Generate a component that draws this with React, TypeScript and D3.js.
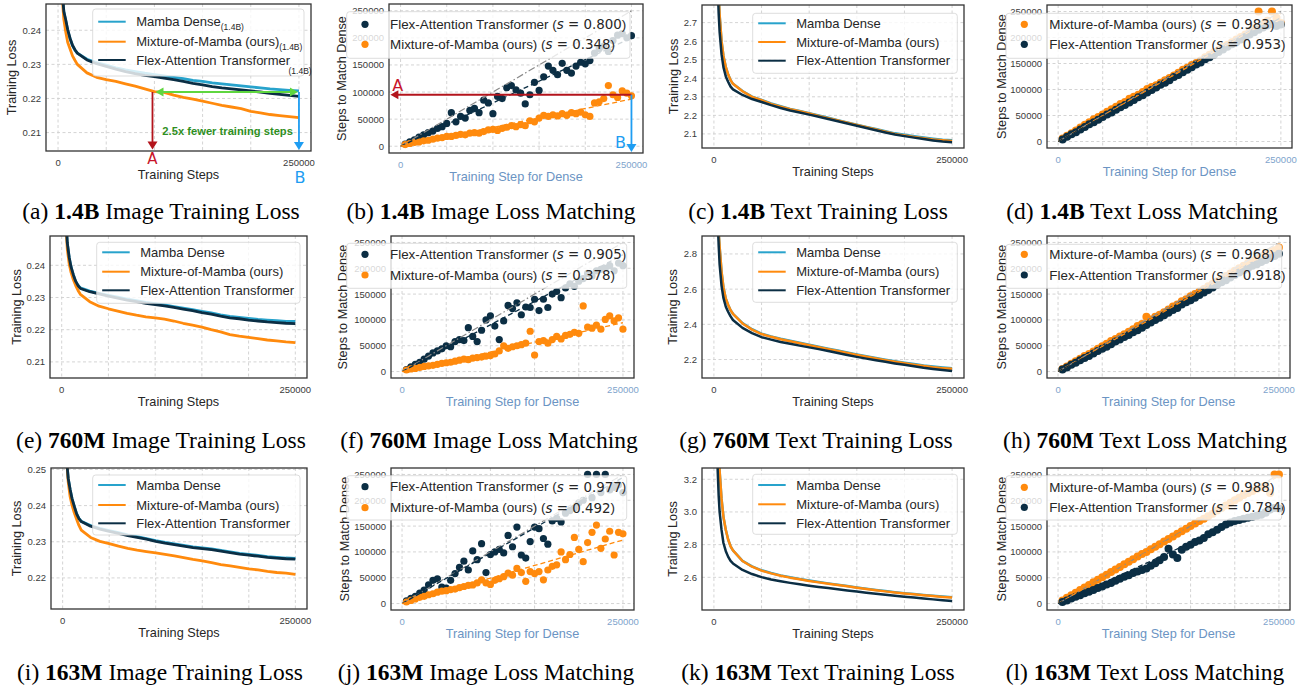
import React from 'react';
import * as d3 from 'd3';

// ---------------- data ----------------
// training steps at which the loss curves are sampled
const LOSS_STEPS = [2000, 3000, 4000, 5000, 6000, 8000, 10000, 12500, 15000, 17500, 20000,
  30000, 40000, 50000, 60000, 70000, 80000, 90000, 100000, 110000, 120000, 130000, 140000,
  150000, 160000, 170000, 180000, 190000, 200000, 210000, 220000, 230000, 240000, 250000];

// 1.4B image loss
const DENSE_IMG_14 = [0.300, 0.280, 0.258, 0.249, 0.2455, 0.2428, 0.2400, 0.2375, 0.2355, 0.2342, 0.2333, 0.2315, 0.2305, 0.2298, 0.2290, 0.2284, 0.2279, 0.2274, 0.2270, 0.2266, 0.2262, 0.2258, 0.2253, 0.2250, 0.2246, 0.2243, 0.2240, 0.2237, 0.2234, 0.2231, 0.2228, 0.2226, 0.2224, 0.2222];
const MOM_IMG_14 = [0.295, 0.272, 0.255, 0.247, 0.2432, 0.2395, 0.2365, 0.2345, 0.2325, 0.2312, 0.2300, 0.2275, 0.2262, 0.2255, 0.2250, 0.2243, 0.2236, 0.2228, 0.2220, 0.2218, 0.2210, 0.2203, 0.2198, 0.2192, 0.2186, 0.2180, 0.2175, 0.2170, 0.2162, 0.2158, 0.2153, 0.2150, 0.2147, 0.2144];
const FLEX_IMG_14 = [0.300, 0.280, 0.258, 0.249, 0.2455, 0.2430, 0.2402, 0.2376, 0.2356, 0.2343, 0.2333, 0.2313, 0.2302, 0.2294, 0.2286, 0.2279, 0.2273, 0.2268, 0.2264, 0.2260, 0.2255, 0.2250, 0.2244, 0.2240, 0.2235, 0.2231, 0.2228, 0.2225, 0.2222, 0.2219, 0.2215, 0.2212, 0.2209, 0.2206];
// 760M image loss
const DENSE_IMG_760 = [0.310, 0.290, 0.262, 0.252, 0.247, 0.2425, 0.2395, 0.2370, 0.2350, 0.2338, 0.2330, 0.2320, 0.2313, 0.2307, 0.2301, 0.2295, 0.2290, 0.2285, 0.2281, 0.2277, 0.2272, 0.2267, 0.2262, 0.2257, 0.2252, 0.2246, 0.2241, 0.2238, 0.2235, 0.2232, 0.2230, 0.2228, 0.2226, 0.2226];
const MOM_IMG_760 = [0.300, 0.280, 0.262, 0.250, 0.245, 0.2405, 0.2378, 0.2355, 0.2337, 0.2322, 0.2310, 0.2287, 0.2273, 0.2265, 0.2258, 0.2251, 0.2245, 0.2240, 0.2237, 0.2233, 0.2227, 0.2220, 0.2214, 0.2208, 0.2200, 0.2193, 0.2185, 0.2180, 0.2176, 0.2172, 0.2168, 0.2165, 0.2162, 0.2160];
const FLEX_IMG_760 = [0.310, 0.290, 0.262, 0.252, 0.247, 0.2425, 0.2395, 0.2370, 0.2350, 0.2337, 0.2328, 0.2318, 0.2311, 0.2304, 0.2298, 0.2292, 0.2287, 0.2282, 0.2278, 0.2274, 0.2269, 0.2264, 0.2259, 0.2253, 0.2248, 0.2242, 0.2237, 0.2234, 0.2230, 0.2227, 0.2224, 0.2222, 0.2220, 0.2219];
// 163M image loss
const DENSE_IMG_163 = [0.310, 0.290, 0.258, 0.2505, 0.2475, 0.2445, 0.2420, 0.2398, 0.2378, 0.2365, 0.2357, 0.2345, 0.2337, 0.2331, 0.2325, 0.2319, 0.2314, 0.2309, 0.2303, 0.2298, 0.2294, 0.2290, 0.2286, 0.2283, 0.2280, 0.2276, 0.2272, 0.2268, 0.2265, 0.2262, 0.2259, 0.2257, 0.2255, 0.2254];
const MOM_IMG_163 = [0.300, 0.280, 0.258, 0.250, 0.2465, 0.2425, 0.2402, 0.2380, 0.2362, 0.2345, 0.2332, 0.2312, 0.2301, 0.2295, 0.2288, 0.2282, 0.2277, 0.2273, 0.2269, 0.2265, 0.2261, 0.2256, 0.2251, 0.2247, 0.2242, 0.2237, 0.2233, 0.2229, 0.2225, 0.2222, 0.2218, 0.2215, 0.2213, 0.2210];
const FLEX_IMG_163 = [0.310, 0.290, 0.258, 0.2505, 0.2475, 0.2445, 0.2420, 0.2398, 0.2377, 0.2364, 0.2356, 0.2343, 0.2335, 0.2329, 0.2323, 0.2317, 0.2312, 0.2307, 0.2301, 0.2296, 0.2292, 0.2288, 0.2284, 0.2281, 0.2278, 0.2274, 0.2270, 0.2266, 0.2263, 0.2260, 0.2257, 0.2255, 0.2253, 0.2252];
// 1.4B text loss
const DENSE_TXT_14 = [3.5, 3.2, 3.0, 2.85, 2.74, 2.60, 2.52, 2.46, 2.42, 2.39, 2.37, 2.331, 2.301, 2.283, 2.264, 2.249, 2.235, 2.224, 2.212, 2.199, 2.187, 2.174, 2.162, 2.150, 2.138, 2.126, 2.114, 2.103, 2.095, 2.087, 2.080, 2.074, 2.069, 2.066];
const MOM_TXT_14 = [3.5, 3.2, 3.0, 2.85, 2.74, 2.60, 2.52, 2.46, 2.42, 2.39, 2.37, 2.33, 2.30, 2.282, 2.262, 2.247, 2.233, 2.222, 2.210, 2.197, 2.185, 2.172, 2.160, 2.148, 2.136, 2.124, 2.112, 2.100, 2.092, 2.084, 2.077, 2.070, 2.066, 2.062];
const FLEX_TXT_14 = [3.4, 3.1, 2.9, 2.75, 2.65, 2.53, 2.46, 2.41, 2.38, 2.355, 2.34, 2.31, 2.288, 2.272, 2.255, 2.240, 2.226, 2.215, 2.204, 2.192, 2.180, 2.168, 2.156, 2.144, 2.132, 2.120, 2.108, 2.097, 2.088, 2.080, 2.072, 2.065, 2.059, 2.055];
// 760M text loss
const DENSE_TXT_760 = [3.6, 3.3, 3.1, 2.92, 2.84, 2.70, 2.61, 2.545, 2.51, 2.48, 2.46, 2.407, 2.372, 2.347, 2.331, 2.318, 2.307, 2.295, 2.284, 2.273, 2.262, 2.251, 2.240, 2.229, 2.219, 2.209, 2.199, 2.190, 2.182, 2.174, 2.166, 2.160, 2.155, 2.151];
const MOM_TXT_760 = [3.6, 3.3, 3.1, 2.92, 2.84, 2.70, 2.61, 2.545, 2.51, 2.48, 2.46, 2.405, 2.37, 2.345, 2.329, 2.315, 2.304, 2.292, 2.281, 2.270, 2.259, 2.248, 2.237, 2.226, 2.216, 2.206, 2.196, 2.187, 2.179, 2.171, 2.163, 2.156, 2.151, 2.147];
const FLEX_TXT_760 = [3.5, 3.2, 3.0, 2.85, 2.74, 2.62, 2.55, 2.50, 2.47, 2.445, 2.425, 2.38, 2.35, 2.327, 2.313, 2.300, 2.290, 2.279, 2.269, 2.259, 2.248, 2.237, 2.226, 2.215, 2.205, 2.196, 2.187, 2.178, 2.170, 2.162, 2.153, 2.146, 2.140, 2.135];
// 163M text loss
const DENSE_TXT_163 = [4.2, 3.9, 3.6, 3.4, 3.25, 3.08, 2.97, 2.89, 2.83, 2.79, 2.765, 2.701, 2.667, 2.643, 2.626, 2.612, 2.600, 2.590, 2.580, 2.571, 2.563, 2.555, 2.547, 2.538, 2.530, 2.523, 2.516, 2.509, 2.503, 2.498, 2.492, 2.487, 2.482, 2.478];
const MOM_TXT_163 = [4.2, 3.9, 3.6, 3.4, 3.25, 3.08, 2.97, 2.89, 2.83, 2.79, 2.765, 2.70, 2.665, 2.641, 2.624, 2.610, 2.598, 2.588, 2.578, 2.569, 2.561, 2.553, 2.545, 2.536, 2.528, 2.521, 2.514, 2.507, 2.501, 2.496, 2.490, 2.485, 2.480, 2.476];
const FLEX_TXT_163 = [3.9, 3.5, 3.25, 3.1, 3.0, 2.89, 2.81, 2.76, 2.725, 2.70, 2.685, 2.645, 2.620, 2.601, 2.587, 2.576, 2.566, 2.557, 2.549, 2.541, 2.534, 2.527, 2.520, 2.513, 2.506, 2.500, 2.493, 2.487, 2.481, 2.476, 2.470, 2.465, 2.460, 2.455];

// loss-matching scatter: dense training step (thousands) -> steps to match dense (thousands)
const MATCH_STEPS_K = [5, 10, 15, 20, 25, 30, 35, 40, 45, 50, 55, 60, 65, 70, 75, 80, 85, 90, 95, 100,
  105, 110, 115, 120, 125, 130, 135, 140, 145, 150, 155, 160, 165, 170, 175, 180, 185, 190, 195, 200,
  205, 210, 215, 220, 225, 230, 235, 240, 245, 250];
const B_FLEX = [4, 8, 12, 17, 21, 25, 28, 33, 36, 42, 62, 45, 55, 52, 66, 70, 62, 85, 80, 60, 92, 88, 108, 112, 104, 98, 78, 95, 118, 103, 128, 148, 140, 132, 153, 140, 135, 148, 155, 152, 158, 172, 180, 185, 175, 195, 205, 208, 200, 204];
const B_MOM = [3, 5, 7, 8, 10, 11, 13, 15, 16, 18, 18, 20, 22, 21, 24, 25, 24, 27, 30, 31, 29, 33, 35, 38, 36, 40, 38, 47, 45, 52, 57, 55, 58, 56, 60, 57, 62, 60, 63, 58, 55, 80, 82, 88, 112, 95, 90, 102, 98, 93];
const D_MOM = [6, 11, 16, 21, 27, 32, 37, 43, 47, 52, 57, 62, 67, 72, 76, 82, 86, 90, 95, 101, 105, 108, 113, 118, 122, 127, 132, 138, 142, 147, 151, 156, 162, 167, 172, 176, 182, 186, 191, 196, 201, 206, 212, 218, 250, 226, 232, 250, 238, 228];
const D_FLEX = [4, 9, 14, 18, 23, 28, 33, 37, 42, 47, 52, 56, 61, 66, 70, 75, 80, 85, 89, 94, 99, 104, 109, 113, 118, 124, 128, 133, 138, 143, 148, 152, 158, 162, 167, 172, 177, 182, 187, 191, 196, 201, 206, 210, 215, 219, 223, 226, 222, 225];
const F_FLEX = [4, 9, 14, 18, 24, 30, 36, 40, 44, 50, 48, 58, 62, 60, 85, 68, 58, 80, 100, 108, 88, 62, 98, 128, 122, 133, 110, 125, 124, 140, 118, 140, 124, 150, 155, 143, 162, 170, 165, 175, 180, 190, 185, 195, 198, 200, 205, 195, 210, 205];
const F_MOM = [3, 5, 6, 8, 10, 11, 12, 14, 16, 17, 18, 20, 22, 24, 23, 26, 27, 28, 30, 31, 34, 40, 50, 45, 48, 50, 52, 55, 78, 32, 58, 60, 55, 62, 68, 63, 70, 72, 76, 74, 127, 86, 84, 90, 82, 101, 108, 98, 104, 82];
const H_MOM = [5, 10, 15, 20, 25, 30, 34, 39, 44, 49, 54, 59, 63, 68, 72, 77, 82, 88, 92, 106, 101, 106, 110, 115, 120, 126, 130, 136, 140, 146, 150, 155, 160, 165, 170, 175, 180, 185, 190, 195, 200, 205, 210, 215, 218, 222, 228, 232, 235, 240];
const H_FLEX = [4, 8, 13, 17, 22, 26, 30, 35, 40, 44, 48, 53, 58, 62, 67, 71, 76, 80, 85, 90, 95, 100, 104, 109, 114, 119, 123, 130, 134, 138, 143, 148, 153, 158, 163, 168, 173, 177, 182, 187, 192, 196, 200, 205, 208, 212, 216, 220, 224, 228];
const J_FLEX = [5, 10, 14, 20, 26, 36, 45, 48, 32, 30, 45, 58, 70, 82, 65, 102, 85, 116, 60, 95, 100, 105, 98, 132, 110, 148, 94, 88, 120, 148, 145, 126, 115, 160, 165, 158, 175, 180, 185, 195, 200, 250, 205, 250, 215, 250, 220, 225, 230, 215];
const J_MOM = [3, 6, 9, 12, 14, 17, 19, 22, 24, 25, 27, 28, 31, 33, 35, 36, 40, 46, 40, 37, 45, 48, 52, 59, 55, 68, 60, 43, 62, 58, 62, 46, 65, 72, 75, 100, 85, 95, 128, 105, 81, 118, 138, 152, 107, 125, 140, 94, 138, 135];
const L_MOM = [6, 11, 16, 21, 26, 31, 36, 41, 46, 51, 56, 61, 66, 71, 76, 81, 86, 91, 96, 100, 105, 110, 115, 120, 125, 130, 135, 140, 145, 150, 155, 160, 164, 169, 174, 180, 185, 190, 195, 200, 205, 210, 214, 218, 222, 225, 228, 214, 250, 250];
const L_FLEX = [3, 6, 10, 13, 16, 20, 23, 26, 30, 33, 37, 40, 44, 48, 52, 55, 59, 62, 65, 68, 73, 78, 84, 90, 106, 95, 88, 104, 110, 114, 119, 122, 127, 134, 138, 143, 148, 153, 157, 160, 162, 164, 166, 168, 170, 172, 176, 182, 185, 184];

const LOSS_LABELS = ['Mamba Dense', 'Mixture-of-Mamba (ours)', 'Flex-Attention Transformer'];
const X_DOMAIN: [number, number] = [-12500, 262500];
const X_GRID = [0, 50000, 100000, 150000, 200000, 250000];
const X_TICKS = [0, 250000];
const MATCH_Y_TICKS = [0, 50000, 100000, 150000, 200000, 250000];
// annotation values for (a) and (b)
const A_STEP = 98000;
const MATCH_LOSS = 0.2219;
const B_STEP = 250000;
const A_MATCH = 95000;

// ---------------- style ----------------
const COL = { dense: '#28a3cc', mom: '#ff8a0d', flex: '#0b2e44', grid: '#cfcfcf', ink: '#262626', tick: '#3a3a3a', blueLab: '#6b94c3', blueTick: '#80a4cc' };
const SANS = '"Liberation Sans", Arial, Helvetica, sans-serif';
const SERIF = '"Liberation Serif", "Times New Roman", serif';
const MATH = '"DejaVu Sans", sans-serif';

const LOSS_PANELS = [
  { id: 'a', box: [46, 4, 311, 151], yDomain: [0.2046, 0.2477], yTicks: [0.21, 0.22, 0.23, 0.24], fmt: '.2f', data: [DENSE_IMG_14, MOM_IMG_14, FLEX_IMG_14], leg: [92.7, 9, 304, 76], rows: [21.7, 41.7, 60], ylabX: 12, lw: 2.8, sub: true, cap: ['(a) ', '1.4B', ' Image Training Loss'], capX: 161, capY: 219 },
  { id: 'c', box: [702, 5, 964, 148], yDomain: [2.024, 2.795], yTicks: [2.1, 2.2, 2.3, 2.4, 2.5, 2.6, 2.7], fmt: '.1f', data: [DENSE_TXT_14, MOM_TXT_14, FLEX_TXT_14], leg: [752.7, 13.3, 957.3, 73.3], rows: [23.3, 42, 60.7], ylabX: 674, lw: 2.5, sub: false, cap: ['(c) ', '1.4B', ' Text Training Loss'], capX: 818, capY: 219 },
  { id: 'e', box: [50, 236, 307, 378], yDomain: [0.205, 0.2491], yTicks: [0.21, 0.22, 0.23, 0.24], fmt: '.2f', data: [DENSE_IMG_760, MOM_IMG_760, FLEX_IMG_760], leg: [96.7, 242.3, 300, 303.3], rows: [252.3, 271.7, 290.3], ylabX: 16.7, lw: 2.8, sub: false, cap: ['(e) ', '760M', ' Image Training Loss'], capX: 161, capY: 448 },
  { id: 'g', box: [702, 236, 964, 378], yDomain: [2.095, 2.902], yTicks: [2.2, 2.4, 2.6, 2.8], fmt: '.1f', data: [DENSE_TXT_760, MOM_TXT_760, FLEX_TXT_760], leg: [752.7, 242.3, 957.3, 302.3], rows: [252.3, 271.7, 290.3], ylabX: 673.3, lw: 2.5, sub: false, cap: ['(g) ', '760M', ' Text Training Loss'], capX: 816, capY: 448 },
  { id: 'i', box: [51, 468, 307, 609], yDomain: [0.2114, 0.2504], yTicks: [0.22, 0.23, 0.24, 0.25], fmt: '.2f', data: [DENSE_IMG_163, MOM_IMG_163, FLEX_IMG_163], leg: [92.7, 475, 300, 535], rows: [485, 505, 523.3], ylabX: 16.7, lw: 2.8, sub: false, cap: ['(i) ', '163M', ' Image Training Loss'], capX: 160, capY: 680 },
  { id: 'k', box: [702, 468, 964, 610], yDomain: [2.40, 3.269], yTicks: [2.6, 2.8, 3.0, 3.2], fmt: '.1f', data: [DENSE_TXT_163, MOM_TXT_163, FLEX_TXT_163], leg: [752.7, 474.3, 957.3, 534.3], rows: [485, 504.3, 523.3], ylabX: 673.3, lw: 2.5, sub: false, cap: ['(k) ', '163M', ' Text Training Loss'], capX: 818, capY: 680 },
];

const FLEX_NAME = 'Flex-Attention Transformer';
const MOM_NAME = 'Mixture-of-Mamba (ours)';
const MATCH_PANELS = [
  { id: 'b', box: [389, 4, 643, 153], r: 3.6, series: [{ name: FLEX_NAME, s: '0.800', slope: 0.800, color: COL.flex, data: B_FLEX }, { name: MOM_NAME, s: '0.348', slope: 0.348, color: COL.mom, data: B_MOM }], leg: [346.7, 11.7, 630, 58.3], rows: [24.3, 44.3], ylabX: 342, cap: ['(b) ', '1.4B', ' Image Loss Matching'], capX: 491, capY: 219 },
  { id: 'd', box: [1047, 5, 1292, 148], r: 4, series: [{ name: MOM_NAME, s: '0.983', slope: 0.983, color: COL.mom, data: D_MOM }, { name: FLEX_NAME, s: '0.953', slope: 0.953, color: COL.flex, data: D_FLEX }], leg: [1006, 13.3, 1284, 58.3], rows: [24.3, 44.3], ylabX: 1001.7, cap: ['(d) ', '1.4B', ' Text Loss Matching'], capX: 1142, capY: 219 },
  { id: 'f', box: [391, 236, 634, 378], r: 3.6, series: [{ name: FLEX_NAME, s: '0.905', slope: 0.905, color: COL.flex, data: F_FLEX }, { name: MOM_NAME, s: '0.378', slope: 0.378, color: COL.mom, data: F_MOM }], leg: [346.7, 243.3, 626.7, 288.3], rows: [254.3, 275], ylabX: 343.3, cap: ['(f) ', '760M', ' Image Loss Matching'], capX: 489, capY: 448 },
  { id: 'h', box: [1047, 236, 1290, 378], r: 4, series: [{ name: MOM_NAME, s: '0.968', slope: 0.968, color: COL.mom, data: H_MOM }, { name: FLEX_NAME, s: '0.918', slope: 0.918, color: COL.flex, data: H_FLEX }], leg: [1006, 244.3, 1281.7, 288.3], rows: [254.3, 275], ylabX: 1001.7, cap: ['(h) ', '760M', ' Text Loss Matching'], capX: 1145, capY: 448 },
  { id: 'j', box: [391, 468, 634, 610], r: 3.6, series: [{ name: FLEX_NAME, s: '0.977', slope: 0.977, color: COL.flex, data: J_FLEX }, { name: MOM_NAME, s: '0.492', slope: 0.492, color: COL.mom, data: J_MOM }], leg: [346.7, 475.7, 626.7, 520], rows: [486.7, 507.7], ylabX: 345, cap: ['(j) ', '163M', ' Image Loss Matching'], capX: 486, capY: 680 },
  { id: 'l', box: [1047, 468, 1290, 610], r: 4, series: [{ name: MOM_NAME, s: '0.988', slope: 0.988, color: COL.mom, data: L_MOM }, { name: FLEX_NAME, s: '0.784', slope: 0.784, color: COL.flex, data: L_FLEX }], leg: [1006, 475.7, 1281.7, 520], rows: [487.3, 507.3], ylabX: 1001.7, cap: ['(l) ', '163M', ' Text Loss Matching'], capX: 1145, capY: 680 },
];

// ---------------- helpers ----------------
function Arrow({ x1, y1, x2, y2, color, width = 1.8, head = 8, half = 4.5, both = false }: any) {
  const dx = x2 - x1, dy = y2 - y1;
  const L = Math.hypot(dx, dy);
  const ux = dx / L, uy = dy / L;
  const tri = (tx: number, ty: number, vx: number, vy: number) =>
    `${tx},${ty} ${tx - vx * head - vy * half},${ty - vy * head + vx * half} ${tx - vx * head + vy * half},${ty - vy * head - vx * half}`;
  const sx = both ? x1 + ux * head * 0.8 : x1;
  const sy = both ? y1 + uy * head * 0.8 : y1;
  return (
    <g>
      <line x1={sx} y1={sy} x2={x2 - ux * head * 0.8} y2={y2 - uy * head * 0.8} stroke={color} strokeWidth={width} />
      <polygon points={tri(x2, y2, ux, uy)} fill={color} />
      {both && <polygon points={tri(x1, y1, -ux, -uy)} fill={color} />}
    </g>
  );
}

function Caption({ cap, x, y }: any) {
  return (
    <text x={x} y={y} textAnchor="middle" fontFamily={SERIF} fontSize={23.5} fill="#000">
      <tspan>{cap[0]}</tspan>
      <tspan fontWeight="bold">{cap[1]}</tspan>
      <tspan>{cap[2]}</tspan>
    </text>
  );
}

function Frame({ box, x, y, yTicks, fmt, matching, ylab, ylabX, xlab }: any) {
  const [L, T, R, B] = box;
  const f = d3.format(fmt);
  return (
    <g>
      {X_GRID.map((v) => (
        <line key={'gx' + v} x1={x(v)} x2={x(v)} y1={T} y2={B} stroke={COL.grid} strokeWidth={0.9} strokeDasharray="3,2.5" />
      ))}
      {yTicks.map((v: number) => (
        <line key={'gy' + v} x1={L} x2={R} y1={y(v)} y2={y(v)} stroke={COL.grid} strokeWidth={0.9} strokeDasharray="3,2.5" />
      ))}
      {X_TICKS.map((v) => (
        <text key={'tx' + v} x={x(v)} y={B + 11.5} textAnchor="middle" dominantBaseline="central" fontSize={9.5} fill={matching ? COL.blueTick : COL.tick}>{v}</text>
      ))}
      {yTicks.map((v: number) => (
        <text key={'ty' + v} x={L - 5} y={y(v)} textAnchor="end" dominantBaseline="central" fontSize={9.5} fill={COL.tick}>{f(v)}</text>
      ))}
      <text x={(L + R) / 2} y={B + 23.5} textAnchor="middle" dominantBaseline="central" fontSize={12.7} fill={matching ? COL.blueLab : COL.ink}>{xlab}</text>
      <text transform={`translate(${ylabX},${(T + B) / 2}) rotate(-90)`} textAnchor="middle" dominantBaseline="central" fontSize={12.7} fill={COL.ink}>{ylab}</text>
    </g>
  );
}

function LossPanel({ c }: any) {
  const [L, T, R, B] = c.box;
  const x = d3.scaleLinear().domain(X_DOMAIN).range([L, R]);
  const y = d3.scaleLinear().domain(c.yDomain).range([B, T]);
  const line = d3.line<number>().x((_, i) => x(LOSS_STEPS[i])).y((d) => y(d));
  const colors = [COL.dense, COL.mom, COL.flex];
  const [lx0, ly0, lx1, ly1] = c.leg;
  const clip = 'clip-' + c.id;
  return (
    <g>
      <defs>
        <clipPath id={clip}><rect x={L} y={T} width={R - L} height={B - T} /></clipPath>
      </defs>
      <Frame box={c.box} x={x} y={y} yTicks={c.yTicks} fmt={c.fmt} matching={false} ylab="Training Loss" ylabX={c.ylabX} xlab="Training Steps" />
      <g clipPath={`url(#${clip})`}>
        {c.data.map((s: number[], i: number) => (
          <path key={i} d={line(s) || ''} fill="none" stroke={colors[i]} strokeWidth={c.lw} strokeLinejoin="round" />
        ))}
      </g>
      <rect x={L} y={T} width={R - L} height={B - T} fill="none" stroke="#333" strokeWidth={1.3} />
      <rect x={lx0} y={ly0} width={lx1 - lx0} height={ly1 - ly0} rx={3} fill="#fff" fillOpacity={0.8} stroke="#d4d4d4" strokeWidth={0.8} />
      {LOSS_LABELS.map((lab, i) => (
        <g key={lab}>
          <line x1={lx0 + 5.5} x2={lx0 + 33} y1={c.rows[i]} y2={c.rows[i]} stroke={colors[i]} strokeWidth={2} />
          <text x={lx0 + 43.5} y={c.rows[i]} dominantBaseline="central" fontSize={13} fill={COL.ink}>
            {lab}
            {c.sub && i < 2 && <tspan fontSize={8.5} dy={5}>(1.4B)</tspan>}
          </text>
        </g>
      ))}
      {c.sub && <text x={lx1 - 15.5} y={c.rows[2] + 11} dominantBaseline="central" fontSize={8.5} fill={COL.ink}>(1.4B)</text>}
      {c.id === 'a' && (
        <g>
          <Arrow x1={x(A_STEP)} y1={y(MATCH_LOSS)} x2={x(A_STEP)} y2={B - 1.5} color="#b3141c" width={1.8} head={8} half={5} />
          <Arrow x1={x(A_STEP) + 3} y1={y(MATCH_LOSS)} x2={x(B_STEP) - 1} y2={y(MATCH_LOSS)} color="#5fd63f" width={1.8} head={8} half={4.5} both />
          <Arrow x1={x(B_STEP)} y1={y(MATCH_LOSS)} x2={x(B_STEP)} y2={B - 1} color="#1e9df2" width={1.8} head={8} half={5} />
          <text x={x(176000)} y={y(0.2106)} textAnchor="middle" dominantBaseline="central" fontSize={11.2} fontWeight="bold" fill="#2f8f22">2.5x fewer training steps</text>
          <text x={x(A_STEP)} y={B + 8} textAnchor="middle" dominantBaseline="central" fontSize={15} fill="#c8142a" fontFamily={MATH}>A</text>
          <text x={x(B_STEP) + 1} y={B + 26} textAnchor="middle" dominantBaseline="central" fontSize={16} fill="#1e9df2" fontFamily={MATH}>B</text>
        </g>
      )}
      <Caption cap={c.cap} x={c.capX} y={c.capY} />
    </g>
  );
}

function MatchPanel({ c }: any) {
  const [L, T, R, B] = c.box;
  const x = d3.scaleLinear().domain(X_DOMAIN).range([L, R]);
  const y = d3.scaleLinear().domain(X_DOMAIN).range([B, T]);
  const [lx0, ly0, lx1, ly1] = c.leg;
  const clip = 'clip-' + c.id;
  const diag = d3.line<number>().x((d) => x(d)).y((d) => y(d));
  return (
    <g>
      <defs>
        <clipPath id={clip}><rect x={L} y={T} width={R - L} height={B - T} /></clipPath>
      </defs>
      <Frame box={c.box} x={x} y={y} yTicks={MATCH_Y_TICKS} fmt="d" matching ylab="Steps to Match Dense" ylabX={c.ylabX} xlab="Training Step for Dense" />
      <g clipPath={`url(#${clip})`}>
        {c.series.map((s: any) => (
          <g key={s.name}>
            {s.data.map((v: number, i: number) => (
              <circle key={i} cx={x(MATCH_STEPS_K[i] * 1000)} cy={y(v * 1000)} r={c.r} fill={s.color} />
            ))}
          </g>
        ))}
        <path d={diag([0, 250000]) || ''} stroke="#8a8a8a" strokeWidth={1.2} strokeDasharray="7,2.5,1.5,2.5" fill="none" />
        {c.series.map((s: any) => (
          <line key={'r' + s.name} x1={x(0)} y1={y(0)} x2={x(250000)} y2={y(250000 * s.slope)} stroke={s.color} strokeWidth={1.3} strokeDasharray="5,3" />
        ))}
      </g>
      <rect x={L} y={T} width={R - L} height={B - T} fill="none" stroke="#333" strokeWidth={1.3} />
      <rect x={lx0} y={ly0} width={lx1 - lx0} height={ly1 - ly0} rx={3} fill="#fff" fillOpacity={0.8} stroke="#d4d4d4" strokeWidth={0.8} />
      {c.series.map((s: any, i: number) => (
        <g key={'l' + s.name}>
          <circle cx={lx0 + 18.3} cy={c.rows[i]} r={3.6} fill={s.color} />
          <text x={lx0 + 43.3} y={c.rows[i]} dominantBaseline="central" fontSize={13.4} fill={COL.ink}>
            {s.name} (<tspan fontFamily={MATH} fontStyle="italic">s</tspan><tspan fontFamily={MATH}> = {s.s}</tspan>)
          </text>
        </g>
      ))}
      {c.id === 'b' && (
        <g>
          <Arrow x1={x(B_STEP)} y1={y(A_MATCH)} x2={x(-11000)} y2={y(A_MATCH)} color="#b3141c" width={1.8} head={8} half={4.5} />
          <Arrow x1={x(B_STEP)} y1={y(A_MATCH)} x2={x(B_STEP)} y2={B - 1} color="#1e9df2" width={1.8} head={8} half={5} />
          <text x={x(-3000)} y={y(A_MATCH) - 9} textAnchor="middle" dominantBaseline="central" fontSize={16} fill="#c8142a" fontFamily={MATH}>A</text>
          <text x={x(B_STEP) - 11} y={y(0) - 4} textAnchor="middle" dominantBaseline="central" fontSize={16} fill="#1e9df2" fontFamily={MATH}>B</text>
        </g>
      )}
      <Caption cap={c.cap} x={c.capX} y={c.capY} />
    </g>
  );
}

export default function App() {
  return (
    <svg width={1299} height={689} style={{ position: 'absolute', left: 0, top: 0, background: '#fff' }} fontFamily={SANS}>
      <rect x={0} y={0} width={1299} height={689} fill="#fff" />
      {LOSS_PANELS.map((c) => <LossPanel key={c.id} c={c} />)}
      {MATCH_PANELS.map((c) => <MatchPanel key={c.id} c={c} />)}
    </svg>
  );
}
